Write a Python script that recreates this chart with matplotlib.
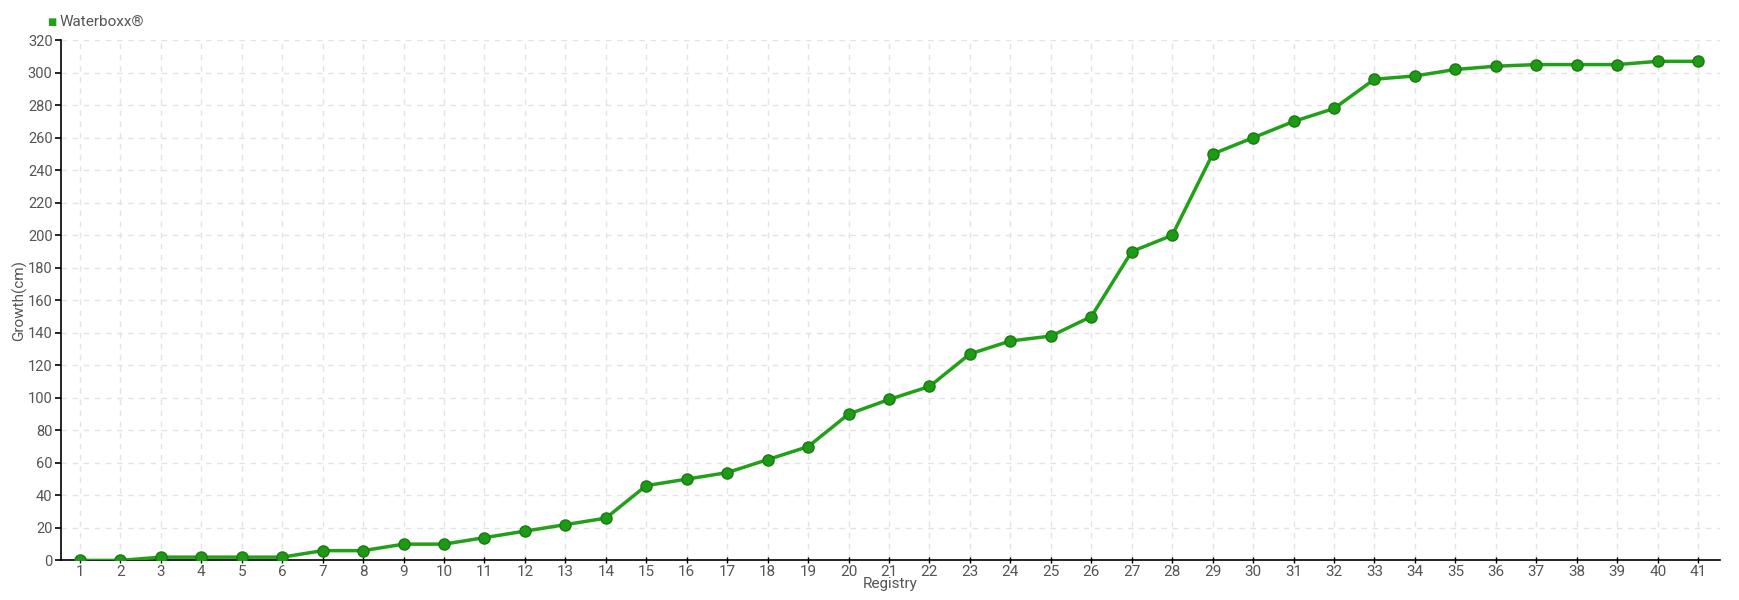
import matplotlib.pyplot as plt

registry = list(range(1, 42))
growth = [0, 0, 2, 2, 2, 2, 6, 6, 10, 10, 14, 18, 22, 26, 46, 50, 54, 62, 70, 90,
          99, 107, 127, 135, 138, 150, 190, 200, 250, 260, 270, 278, 296, 298, 302,
          304, 305, 305, 305, 307, 307]
y_ticks = list(range(0, 321, 20))

plt.rcParams['font.family'] = ['Roboto', 'DejaVu Sans']
txt = '#555555'

fig = plt.figure(figsize=(17.4, 6), dpi=100)
ax = fig.add_axes([0.035, 0.066, 0.9535, 0.867])

ax.plot(registry, growth, color='#22a01a', lw=2.5, marker='o', ms=8,
        mfc='#1f9a16', mec='#187c10', mew=1, zorder=3)

ax.set_xlim(0.53, 41.54)
ax.set_ylim(0, 320)
ax.set_xticks(registry)
ax.set_yticks(y_ticks)
ax.grid(True, color='#e3e3e3', ls=(0, (4, 4)), lw=1)
ax.set_axisbelow(True)

for s in ['top', 'right']:
    ax.spines[s].set_visible(False)
ax.spines['left'].set_linewidth(1.2)
ax.spines['bottom'].set_linewidth(1.2)
ax.tick_params(axis='y', length=4, width=1.2, labelsize=10.5, labelcolor=txt, pad=2)
ax.tick_params(axis='x', length=4, width=1, direction='inout', labelsize=11,
               labelcolor=txt, pad=1)

ax.set_xlabel('Registry', fontsize=11, color=txt)
ax.xaxis.set_label_coords(0.5, -0.032)
ax.set_ylabel('Growth(cm)', fontsize=11, color=txt)
ax.yaxis.set_label_coords(-0.0205, 0.5)

# legend
fig.text(0.027, 0.963, '\u25a0', color='#22a01a', fontsize=7, va='center', ha='left',
         family=['DejaVu Sans'])
fig.text(0.034, 0.963, 'Waterboxx\u00ae', color=txt, fontsize=11, va='center', ha='left')

fig.savefig('out.png', dpi=100)
